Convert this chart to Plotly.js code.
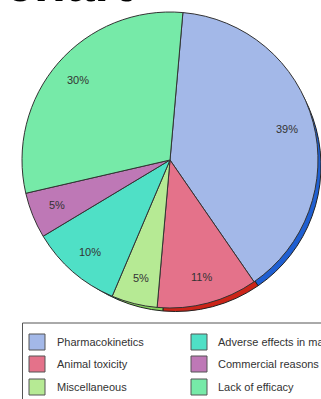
<!DOCTYPE html>
<html>
<head>
<meta charset="utf-8">
<script src="https://cdn.plot.ly/plotly-2.35.2.min.js"></script>
<style>
html,body{margin:0;padding:0;background:#fff;overflow:hidden;}
#chart{width:321px;height:399px;}
</style>
</head>
<body>
<div id="chart"></div>
<script>
// Data
const labels = ["Pharmacokinetics", "Animal toxicity", "Miscellaneous", "Adverse effects in man", "Commercial reasons", "Lack of efficacy"];
const values = [39, 11, 5, 10, 5, 30];
const faceColors = ["#a3b8e8", "#e4728a", "#b6ea94", "#4fe0c6", "#be78b6", "#76eaa8"];
const rimColors = ["#1f5fd2", "#cc2418", "#84d45e", "#12b89c", "#8a3a84", "#3ccf80"];
const legendOrder = ["Pharmacokinetics", "Adverse effects in man", "Animal toxicity", "Commercial reasons", "Miscellaneous", "Lack of efficacy"];
const titleText = "chart";

const W = 321, H = 399;
const px = x => x / W;
const py = y => (H - y) / H;

// Pie geometry (pixels)
const cx = 170, cy = 160, r = 148;
const rotation = 5;
const depthX = 8, depthY = 6;

const rim = {
  type: "pie", labels: labels, values: values, sort: false,
  direction: "clockwise", rotation: rotation,
  marker: {colors: rimColors, line: {color: "#222", width: 1}},
  textinfo: "none", hoverinfo: "skip", showlegend: false,
  domain: {x: [px(cx - r + depthX), px(cx + r + depthX)], y: [py(cy + r + depthY), py(cy - r + depthY)]}
};
const face = {
  type: "pie", labels: labels, values: values, sort: false,
  direction: "clockwise", rotation: rotation,
  marker: {colors: faceColors, line: {color: "#333", width: 1}},
  textinfo: "none", showlegend: false,
  domain: {x: [px(cx - r), px(cx + r)], y: [py(cy + r), py(cy - r)]}
};

const shapes = [{
  type: "rect", xref: "paper", yref: "paper",
  x0: px(22.5), x1: px(330), y0: py(410), y1: py(323),
  line: {color: "#555", width: 1}, fillcolor: "rgba(0,0,0,0)"
}];
const annotations = [{
  text: titleText, xref: "paper", yref: "paper", x: px(3), y: py(14),
  xanchor: "left", yanchor: "bottom", showarrow: false,
  font: {family: "Liberation Sans, Arial, sans-serif", size: 52, color: "#000", weight: "bold"}
}];

// Percent labels placed at each slice's mid angle
const total = values.reduce((a, b) => a + b, 0);
let cum = 0;
values.forEach((v, i) => {
  const mid = (rotation + (cum + v / 2) / total * 360) * Math.PI / 180;
  cum += v;
  const d = 0.82 * r;
  annotations.push({
    text: Math.round(v / total * 100) + "%", xref: "paper", yref: "paper",
    x: px(cx + d * Math.sin(mid)), y: py(cy - d * Math.cos(mid)),
    xanchor: "center", yanchor: "middle", showarrow: false,
    font: {family: "Liberation Sans, Arial, sans-serif", size: 11, color: "#333"}
  });
});

// Manual legend (two columns, three rows)
const colX = [[29, 55], [191, 216]];
const rowY = [342, 364, 387];
legendOrder.forEach((name, i) => {
  const col = i % 2, row = Math.floor(i / 2);
  const idx = labels.indexOf(name);
  const sx = colX[col][0], tx = colX[col][1], yy = rowY[row];
  shapes.push({
    type: "rect", xref: "paper", yref: "paper",
    x0: px(sx), x1: px(sx + 16), y0: py(yy + 8), y1: py(yy - 8),
    line: {color: "#555", width: 1}, fillcolor: faceColors[idx]
  });
  annotations.push({
    text: name, xref: "paper", yref: "paper", x: px(tx), y: py(yy),
    xanchor: "left", yanchor: "middle", showarrow: false,
    font: {family: "Liberation Sans, Arial, sans-serif", size: 11, color: "#333"}
  });
});

const layout = {
  width: W, height: H,
  margin: {l: 0, r: 0, t: 0, b: 0},
  paper_bgcolor: "#fff",
  showlegend: false,
  shapes: shapes,
  annotations: annotations
};

Plotly.newPlot("chart", [rim, face], layout, {displayModeBar: false, staticPlot: true});
</script>
</body>
</html>
